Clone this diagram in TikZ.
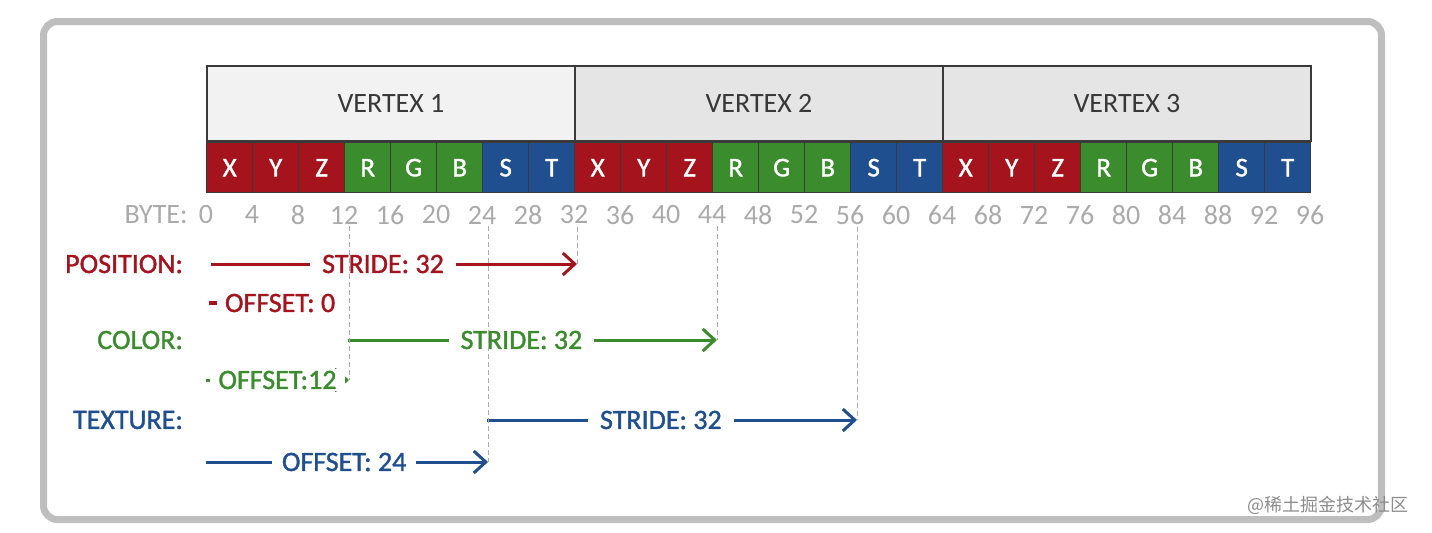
\documentclass[tikz,border=0pt]{standalone}
\usepackage{fontspec}
\setmainfont{Carlito}
\newfontfamily\heavy[FakeBold=1.3]{Carlito}
\newfontfamily\cjk{Noto Sans CJK SC}
\usetikzlibrary{arrows.meta,positioning}
\definecolor{posred}{HTML}{A5131D}
\definecolor{colgreen}{HTML}{3B8C2D}
\definecolor{texblue}{HTML}{1F4F8F}
\definecolor{framegray}{HTML}{BEBEBE}
\definecolor{bytegray}{HTML}{AAAAAA}
\definecolor{cellline}{HTML}{3A3A3A}
\tikzset{
  vtx/.style={draw=cellline, line width=1pt, minimum width=184pt, minimum height=37.5pt,
    inner sep=0pt, anchor=south west, text=black!78, font=\fontsize{14}{16}\selectfont},
  cell/.style={draw=cellline, line width=0.7pt, minimum width=23pt, minimum height=25pt,
    inner sep=0pt, anchor=north west, text=white, font=\heavy\fontsize{13.5}{15}\selectfont},
  bytelab/.style={text=bytegray, inner sep=1pt, font=\fontsize{14}{16}\selectfont},
  rowlab/.style={anchor=east, font=\heavy\fontsize{14}{16}\selectfont},
  midtext/.style={fill=white, inner xsep=6pt, inner ysep=1pt, font=\heavy\fontsize{14}{16}\selectfont},
  arr/.style={line width=1.5pt, -{Straight Barb[length=6pt,width=11pt,line width=1.5pt]}},
  guide/.style={bytegray, line width=0.5pt, dash pattern=on 2.5pt off 1.5pt}
}
\begin{document}
\begin{tikzpicture}[x=0.5pt,y=-0.5pt]
\useasboundingbox (0,0) rectangle (1432,532);
\draw[framegray, line width=3.5pt, rounded corners=7pt] (43.5,21.5) rectangle (1381.5,519.5);

\node[vtx, fill=black!5] (v1) at (206,142) {VERTEX 1};
\node[vtx, fill=black!10] (v2) at (574,142) {VERTEX 2};
\node[vtx, fill=black!10] (v3) at (942,142) {VERTEX 3};
\foreach \v in {0,1,2}
  \foreach \c/\col [count=\k from 0] in {X/posred,Y/posred,Z/posred,R/colgreen,G/colgreen,B/colgreen,S/texblue,T/texblue}
    \node[cell, fill=\col] (c\v\k) at ({206+368*\v+46*\k},142) {\c};

\node[bytelab, anchor=east] (byte) at (190,215) {BYTE:};
\foreach \n in {0,4,...,96}
  \node[bytelab] (b\n) at ({206+11.5*\n},215) {\n};

\node[rowlab, posred] (pos) at (190,264) {POSITION:};
\node[rowlab, colgreen] (col) at (190,340) {COLOR:};
\node[rowlab, texblue] (tex) at (190,420) {TEXTURE:};

\coordinate (ps) at (211,264);
\coordinate (pe) at (577,264);
\coordinate (os) at (209,303);
\coordinate (cs) at (348,340);
\coordinate (ce) at (717,340);
\coordinate (ocs) at (206,380);
\coordinate (oce) at (349,380);
\coordinate (ts) at (487,420);
\coordinate (te) at (857,420);
\coordinate (ots) at (206,462);
\coordinate (ote) at (488,462);

\draw[arr, posred] (ps) -- node[midtext, pos=0.47] (ps32) {STRIDE: 32} (pe);
\draw[posred, line width=2pt] (os) -- ++(8,0) node[anchor=west, inner sep=3pt, font=\heavy\fontsize{14}{16}\selectfont] (po0) {OFFSET: 0};
\draw[arr, colgreen] (cs) -- node[midtext, pos=0.47] (cs32) {STRIDE: 32} (ce);
\draw[arr, colgreen] (ocs) -- node[midtext, pos=0.5, inner xsep=4pt] (co12) {OFFSET:12} (oce);
\draw[arr, texblue] (ts) -- node[midtext, pos=0.47] (ts32) {STRIDE: 32} (te);
\draw[arr, texblue] (ots) -- node[midtext, pos=0.49, inner xsep=5pt] (to24) {OFFSET: 24} (ote);

\draw[guide] (oce |- b12.south) -- (oce);
\draw[guide] (ote |- b24.south) -- (ote);
\draw[guide] (pe |- b32.south) -- (pe);
\draw[guide] (ce |- b44.south) -- (ce);
\draw[guide] (te |- b56.south) -- (te);

\node[text=black!45, font=\cjk\fontsize{9}{10}\selectfont, anchor=east] (mark) at (1416,505) {@稀土掘金技术社区};
\end{tikzpicture}
\end{document}
